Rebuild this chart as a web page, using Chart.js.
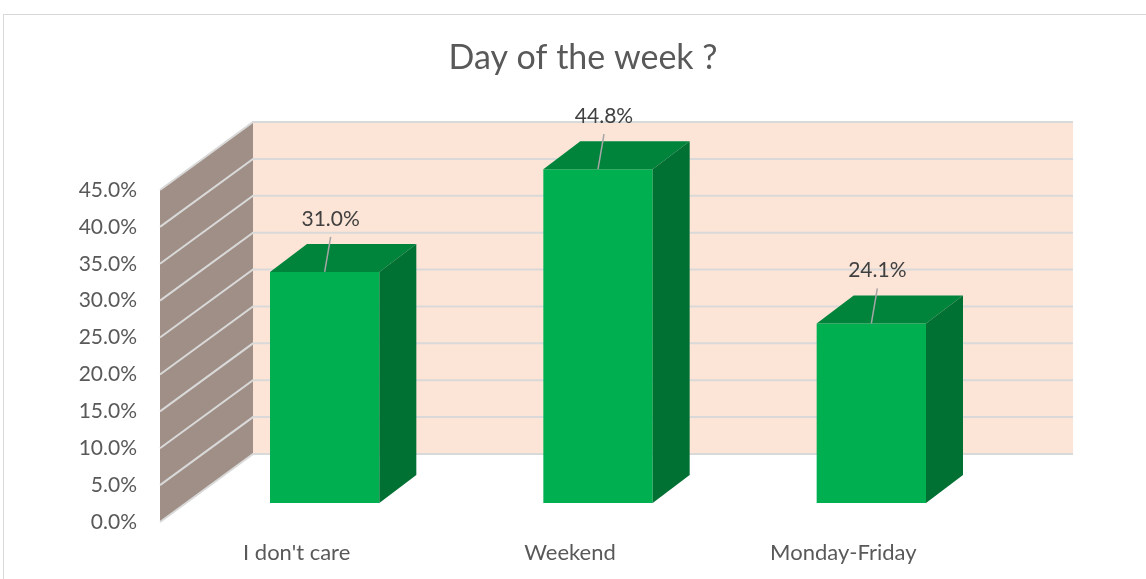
<!DOCTYPE html>
<html>
<head>
<meta charset="utf-8">
<script src="https://cdn.jsdelivr.net/npm/chart.js@4/dist/chart.umd.min.js"></script>
<style>
    html, body { margin: 0; padding: 0; background: #fff; overflow: hidden; }
    #wrap { width: 1146px; height: 579px; }
</style>
</head>
<body>
<div id="wrap"><canvas id="dayChart" width="1146" height="579"></canvas></div>
<script>
const categories = ["I don't care", 'Weekend', 'Monday-Friday'];
const shares = [31.0, 44.8, 24.1];
const axisMax = 45;
const axisStep = 5;

// fake 3D: depth offsets of the walls and of the bars
const WALL_DX = 93, WALL_DY = -68;
const BAR_SHIFT = 28;
const BAR_DX = 37, BAR_DY = -28;
const FONT = 'Lato, "Open Sans", sans-serif';

const threeD = {
    id: 'threeD',
    beforeDraw(chart) {
        const c = chart.ctx;
        c.save();
        c.strokeStyle = '#d9d9d9';
        c.lineWidth = 1;
        c.strokeRect(3.5, 14.5, 1300, 700);
        c.restore();
    },
    beforeDatasetsDraw(chart) {
        const c = chart.ctx;
        const x = chart.scales.x, y = chart.scales.y;
        const y0 = y.getPixelForValue(0), yTop = y.getPixelForValue(axisMax);
        const l = x.left, r = x.right;
        c.save();
        // back wall
        c.fillStyle = '#fce4d6';
        c.fillRect(l + WALL_DX, yTop + WALL_DY, r - l, y0 - yTop);
        // side wall
        c.fillStyle = '#a08f86';
        c.beginPath();
        c.moveTo(l, y0);
        c.lineTo(l + WALL_DX, y0 + WALL_DY);
        c.lineTo(l + WALL_DX, yTop + WALL_DY);
        c.lineTo(l, yTop);
        c.closePath();
        c.fill();
        // gridlines on both walls
        c.strokeStyle = '#d9d9d9';
        c.lineWidth = 2;
        y.ticks.forEach(t => {
            const p = y.getPixelForValue(t.value);
            c.beginPath();
            c.moveTo(l, p);
            c.lineTo(l + WALL_DX, p + WALL_DY);
            c.lineTo(r + WALL_DX, p + WALL_DY);
            c.stroke();
        });
        c.restore();
        c.save();
        c.translate(BAR_SHIFT, 0);
    },
    afterDatasetsDraw(chart) {
        const c = chart.ctx;
        const ds = chart.data.datasets[0];
        chart.getDatasetMeta(0).data.forEach((bar, i) => {
            const {x, y, base, width} = bar.getProps(['x', 'y', 'base', 'width'], true);
            const L = x - width / 2, R = x + width / 2;
            c.fillStyle = '#00843c';
            c.beginPath();
            c.moveTo(L, y); c.lineTo(R, y);
            c.lineTo(R + BAR_DX, y + BAR_DY); c.lineTo(L + BAR_DX, y + BAR_DY);
            c.closePath(); c.fill();
            c.fillStyle = '#007033';
            c.beginPath();
            c.moveTo(R, y); c.lineTo(R + BAR_DX, y + BAR_DY);
            c.lineTo(R + BAR_DX, base + BAR_DY); c.lineTo(R, base);
            c.closePath(); c.fill();

            // data label + leader line
            const lx = x + 6, ly = y - 53;
            c.strokeStyle = '#a6a6a6';
            c.lineWidth = 1.5;
            c.beginPath();
            c.moveTo(lx, ly + 18);
            c.lineTo(x, y);
            c.stroke();
            c.fillStyle = '#404040';
            c.font = '21px ' + FONT;
            c.textAlign = 'center';
            c.textBaseline = 'middle';
            c.fillText(ds.data[i].toFixed(1) + '%', lx, ly);
        });
        c.restore();
    }
};

new Chart(document.getElementById('dayChart'), {
    type: 'bar',
    data: {
        labels: categories,
        datasets: [{
            data: shares,
            yAxisID: 'yb',
            backgroundColor: '#00b050',
            borderWidth: 0,
            categoryPercentage: 0.4,
            barPercentage: 1,
            clip: false
        }]
    },
    options: {
        responsive: false,
        animation: false,
        layout: { padding: { left: 20, right: 0, top: 0, bottom: 0 } },
        plugins: {
            legend: { display: false },
            tooltip: { enabled: false },
            title: {
                display: true,
                text: 'Day of the week ?',
                color: '#595959',
                font: { family: FONT, size: 34, weight: 'normal' },
                padding: { top: 37.6, bottom: 111.6 }
            }
        },
        scales: {
            x: {
                grid: { display: false, drawTicks: false },
                border: { display: false },
                ticks: { color: '#595959', font: { family: FONT, size: 22 }, padding: 18 },
                afterFit: s => { s.height = 57; }
            },
            y: {
                min: 0,
                max: axisMax,
                grid: { display: false, drawTicks: false },
                border: { display: false },
                ticks: {
                    stepSize: axisStep,
                    color: '#595959',
                    font: { family: FONT, size: 21 },
                    padding: 23,
                    callback: v => v.toFixed(1) + '%'
                },
                afterFit: s => { s.width = 140; }
            },
            yb: {
                display: false,
                min: -2.55,
                max: 42.0
            },
            // empty right-hand strip, keeps the plot narrower than the canvas
            yr: {
                position: 'right',
                min: 0,
                max: axisMax,
                grid: { display: false, drawTicks: false },
                border: { display: false },
                ticks: { display: false },
                afterFit: s => { s.width = 166; }
            }
        }
    },
    plugins: [threeD]
});
</script>
</body>
</html>
